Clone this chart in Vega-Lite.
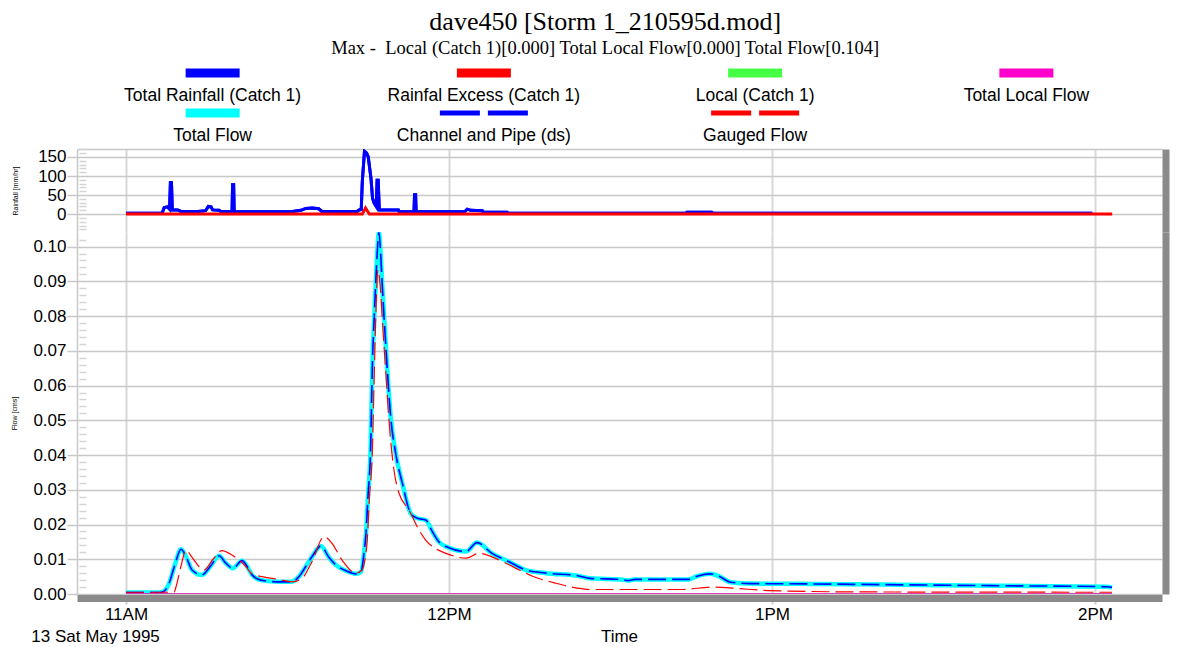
{
  "$schema": "https://vega.github.io/schema/vega-lite/v6.json",
  "padding": {"left": 10, "top": 8, "right": 5, "bottom": 0},
  "background": "white",
  "title": {
    "text": "dave450 [Storm 1_210595d.mod]",
    "subtitle": "Max - \u00a0Local (Catch 1)[0.000] Total Local Flow[0.000] Total Flow[0.104]",
    "font": "Liberation Serif", "fontSize": 26, "fontWeight": "normal", "color": "black",
    "subtitleFont": "Liberation Serif", "subtitleFontSize": 18.5, "subtitleColor": "black", "subtitlePadding": 4,
    "anchor": "middle", "offset": 6, "dx": 17
  },
  "datasets": {
    "legend": [
      {"series": "Total Rainfall (Catch 1)", "col": 0, "row": 0},
      {"series": "Rainfal Excess (Catch 1)", "col": 1, "row": 0},
      {"series": "Local (Catch 1)", "col": 2, "row": 0},
      {"series": "Total Local Flow", "col": 3, "row": 0},
      {"series": "Total Flow", "col": 0, "row": 1},
      {"series": "Channel and Pipe (ds)", "col": 1, "row": 1},
      {"series": "Gauged Flow", "col": 2, "row": 1}
    ],
    "rain": [
      {"series": "Total Rainfall", "t": "1995-05-13T11:00:00", "v": 2},
      {"series": "Total Rainfall", "t": "1995-05-13T11:06:42", "v": 2},
      {"series": "Total Rainfall", "t": "1995-05-13T11:07:06", "v": 17},
      {"series": "Total Rainfall", "t": "1995-05-13T11:07:42", "v": 19},
      {"series": "Total Rainfall", "t": "1995-05-13T11:08:06", "v": 13},
      {"series": "Total Rainfall", "t": "1995-05-13T11:08:15", "v": 83},
      {"series": "Total Rainfall", "t": "1995-05-13T11:08:27", "v": 83},
      {"series": "Total Rainfall", "t": "1995-05-13T11:08:36", "v": 11},
      {"series": "Total Rainfall", "t": "1995-05-13T11:09:36", "v": 11},
      {"series": "Total Rainfall", "t": "1995-05-13T11:10:12", "v": 7},
      {"series": "Total Rainfall", "t": "1995-05-13T11:13:18", "v": 7},
      {"series": "Total Rainfall", "t": "1995-05-13T11:14:48", "v": 9},
      {"series": "Total Rainfall", "t": "1995-05-13T11:15:18", "v": 20},
      {"series": "Total Rainfall", "t": "1995-05-13T11:15:48", "v": 19},
      {"series": "Total Rainfall", "t": "1995-05-13T11:16:06", "v": 11},
      {"series": "Total Rainfall", "t": "1995-05-13T11:17:18", "v": 10},
      {"series": "Total Rainfall", "t": "1995-05-13T11:17:36", "v": 7},
      {"series": "Total Rainfall", "t": "1995-05-13T11:19:42", "v": 7},
      {"series": "Total Rainfall", "t": "1995-05-13T11:19:48", "v": 77},
      {"series": "Total Rainfall", "t": "1995-05-13T11:20:00", "v": 77},
      {"series": "Total Rainfall", "t": "1995-05-13T11:20:06", "v": 6},
      {"series": "Total Rainfall", "t": "1995-05-13T11:30:36", "v": 6},
      {"series": "Total Rainfall", "t": "1995-05-13T11:32:30", "v": 10},
      {"series": "Total Rainfall", "t": "1995-05-13T11:33:24", "v": 15},
      {"series": "Total Rainfall", "t": "1995-05-13T11:34:36", "v": 16},
      {"series": "Total Rainfall", "t": "1995-05-13T11:35:48", "v": 14},
      {"series": "Total Rainfall", "t": "1995-05-13T11:36:24", "v": 7},
      {"series": "Total Rainfall", "t": "1995-05-13T11:42:54", "v": 7},
      {"series": "Total Rainfall", "t": "1995-05-13T11:43:18", "v": 11},
      {"series": "Total Rainfall", "t": "1995-05-13T11:43:42", "v": 12},
      {"series": "Total Rainfall", "t": "1995-05-13T11:43:54", "v": 86},
      {"series": "Total Rainfall", "t": "1995-05-13T11:44:18", "v": 165},
      {"series": "Total Rainfall", "t": "1995-05-13T11:44:30", "v": 163},
      {"series": "Total Rainfall", "t": "1995-05-13T11:44:42", "v": 160},
      {"series": "Total Rainfall", "t": "1995-05-13T11:45:00", "v": 150},
      {"series": "Total Rainfall", "t": "1995-05-13T11:45:30", "v": 95},
      {"series": "Total Rainfall", "t": "1995-05-13T11:45:48", "v": 42},
      {"series": "Total Rainfall", "t": "1995-05-13T11:46:06", "v": 29},
      {"series": "Total Rainfall", "t": "1995-05-13T11:46:30", "v": 20},
      {"series": "Total Rainfall", "t": "1995-05-13T11:46:39", "v": 89},
      {"series": "Total Rainfall", "t": "1995-05-13T11:46:51", "v": 89},
      {"series": "Total Rainfall", "t": "1995-05-13T11:47:03", "v": 11},
      {"series": "Total Rainfall", "t": "1995-05-13T11:50:36", "v": 11},
      {"series": "Total Rainfall", "t": "1995-05-13T11:50:45", "v": 6},
      {"series": "Total Rainfall", "t": "1995-05-13T11:53:30", "v": 6},
      {"series": "Total Rainfall", "t": "1995-05-13T11:53:36", "v": 51},
      {"series": "Total Rainfall", "t": "1995-05-13T11:53:48", "v": 51},
      {"series": "Total Rainfall", "t": "1995-05-13T11:53:54", "v": 6},
      {"series": "Total Rainfall", "t": "1995-05-13T12:02:54", "v": 6},
      {"series": "Total Rainfall", "t": "1995-05-13T12:03:24", "v": 13},
      {"series": "Total Rainfall", "t": "1995-05-13T12:04:00", "v": 10},
      {"series": "Total Rainfall", "t": "1995-05-13T12:06:12", "v": 9},
      {"series": "Total Rainfall", "t": "1995-05-13T12:06:24", "v": 5},
      {"series": "Total Rainfall", "t": "1995-05-13T12:10:48", "v": 5},
      {"series": "Total Rainfall", "t": "1995-05-13T12:11:00", "v": 2},
      {"series": "Total Rainfall", "t": "1995-05-13T12:44:00", "v": 2},
      {"series": "Total Rainfall", "t": "1995-05-13T12:44:12", "v": 5},
      {"series": "Total Rainfall", "t": "1995-05-13T12:48:48", "v": 5},
      {"series": "Total Rainfall", "t": "1995-05-13T12:49:00", "v": 2},
      {"series": "Total Rainfall", "t": "1995-05-13T13:59:30", "v": 2},
      {"series": "Rainfall Excess", "t": "1995-05-13T11:00:00", "v": 0},
      {"series": "Rainfall Excess", "t": "1995-05-13T11:43:54", "v": 0},
      {"series": "Rainfall Excess", "t": "1995-05-13T11:44:30", "v": 16},
      {"series": "Rainfall Excess", "t": "1995-05-13T11:45:12", "v": 0},
      {"series": "Rainfall Excess", "t": "1995-05-13T14:03:12", "v": 0}
    ],
    "flow": [
      {"series": "Total Flow", "t": "1995-05-13T11:00:00", "v": 0.0004},
      {"series": "Total Flow", "t": "1995-05-13T11:06:08", "v": 0.0004},
      {"series": "Total Flow", "t": "1995-05-13T11:07:04", "v": 0.0008},
      {"series": "Total Flow", "t": "1995-05-13T11:07:59", "v": 0.003},
      {"series": "Total Flow", "t": "1995-05-13T11:09:06", "v": 0.0085},
      {"series": "Total Flow", "t": "1995-05-13T11:10:13", "v": 0.0129},
      {"series": "Total Flow", "t": "1995-05-13T11:11:09", "v": 0.0108},
      {"series": "Total Flow", "t": "1995-05-13T11:12:16", "v": 0.0069},
      {"series": "Total Flow", "t": "1995-05-13T11:14:07", "v": 0.0055},
      {"series": "Total Flow", "t": "1995-05-13T11:15:47", "v": 0.0082},
      {"series": "Total Flow", "t": "1995-05-13T11:17:17", "v": 0.011},
      {"series": "Total Flow", "t": "1995-05-13T11:18:35", "v": 0.0088},
      {"series": "Total Flow", "t": "1995-05-13T11:19:53", "v": 0.0074},
      {"series": "Total Flow", "t": "1995-05-13T11:21:33", "v": 0.0096},
      {"series": "Total Flow", "t": "1995-05-13T11:22:29", "v": 0.008},
      {"series": "Total Flow", "t": "1995-05-13T11:23:25", "v": 0.0055},
      {"series": "Total Flow", "t": "1995-05-13T11:25:05", "v": 0.004},
      {"series": "Total Flow", "t": "1995-05-13T11:28:25", "v": 0.0035},
      {"series": "Total Flow", "t": "1995-05-13T11:30:39", "v": 0.0035},
      {"series": "Total Flow", "t": "1995-05-13T11:32:08", "v": 0.005},
      {"series": "Total Flow", "t": "1995-05-13T11:33:26", "v": 0.008},
      {"series": "Total Flow", "t": "1995-05-13T11:34:33", "v": 0.0107},
      {"series": "Total Flow", "t": "1995-05-13T11:36:13", "v": 0.0138},
      {"series": "Total Flow", "t": "1995-05-13T11:37:43", "v": 0.0105},
      {"series": "Total Flow", "t": "1995-05-13T11:39:01", "v": 0.0083},
      {"series": "Total Flow", "t": "1995-05-13T11:40:52", "v": 0.0067},
      {"series": "Total Flow", "t": "1995-05-13T11:42:44", "v": 0.0058},
      {"series": "Total Flow", "t": "1995-05-13T11:43:40", "v": 0.0064},
      {"series": "Total Flow", "t": "1995-05-13T11:44:13", "v": 0.0118},
      {"series": "Total Flow", "t": "1995-05-13T11:44:35", "v": 0.0175},
      {"series": "Total Flow", "t": "1995-05-13T11:44:57", "v": 0.028},
      {"series": "Total Flow", "t": "1995-05-13T11:45:27", "v": 0.0424},
      {"series": "Total Flow", "t": "1995-05-13T11:45:45", "v": 0.0645},
      {"series": "Total Flow", "t": "1995-05-13T11:46:12", "v": 0.0827},
      {"series": "Total Flow", "t": "1995-05-13T11:46:34", "v": 0.0952},
      {"series": "Total Flow", "t": "1995-05-13T11:47:00", "v": 0.104},
      {"series": "Total Flow", "t": "1995-05-13T11:47:16", "v": 0.099},
      {"series": "Total Flow", "t": "1995-05-13T11:47:37", "v": 0.0885},
      {"series": "Total Flow", "t": "1995-05-13T11:48:21", "v": 0.0693},
      {"series": "Total Flow", "t": "1995-05-13T11:49:10", "v": 0.051},
      {"series": "Total Flow", "t": "1995-05-13T11:50:06", "v": 0.0405},
      {"series": "Total Flow", "t": "1995-05-13T11:51:20", "v": 0.0319},
      {"series": "Total Flow", "t": "1995-05-13T11:52:53", "v": 0.0232},
      {"series": "Total Flow", "t": "1995-05-13T11:54:07", "v": 0.0218},
      {"series": "Total Flow", "t": "1995-05-13T11:55:40", "v": 0.0213},
      {"series": "Total Flow", "t": "1995-05-13T11:56:54", "v": 0.018},
      {"series": "Total Flow", "t": "1995-05-13T11:58:08", "v": 0.015},
      {"series": "Total Flow", "t": "1995-05-13T12:00:00", "v": 0.0133},
      {"series": "Total Flow", "t": "1995-05-13T12:03:10", "v": 0.0122},
      {"series": "Total Flow", "t": "1995-05-13T12:05:12", "v": 0.0148},
      {"series": "Total Flow", "t": "1995-05-13T12:07:59", "v": 0.0117},
      {"series": "Total Flow", "t": "1995-05-13T12:11:09", "v": 0.0093},
      {"series": "Total Flow", "t": "1995-05-13T12:14:18", "v": 0.0069},
      {"series": "Total Flow", "t": "1995-05-13T12:18:01", "v": 0.006},
      {"series": "Total Flow", "t": "1995-05-13T12:24:09", "v": 0.0052},
      {"series": "Total Flow", "t": "1995-05-13T12:26:11", "v": 0.0045},
      {"series": "Total Flow", "t": "1995-05-13T12:31:57", "v": 0.0042},
      {"series": "Total Flow", "t": "1995-05-13T12:33:15", "v": 0.0039},
      {"series": "Total Flow", "t": "1995-05-13T12:34:33", "v": 0.0042},
      {"series": "Total Flow", "t": "1995-05-13T12:44:24", "v": 0.0042},
      {"series": "Total Flow", "t": "1995-05-13T12:46:04", "v": 0.0051},
      {"series": "Total Flow", "t": "1995-05-13T12:48:29", "v": 0.0058},
      {"series": "Total Flow", "t": "1995-05-13T12:50:10", "v": 0.0051},
      {"series": "Total Flow", "t": "1995-05-13T12:52:17", "v": 0.0034},
      {"series": "Total Flow", "t": "1995-05-13T12:56:02", "v": 0.003},
      {"series": "Total Flow", "t": "1995-05-13T13:07:37", "v": 0.0029},
      {"series": "Total Flow", "t": "1995-05-13T13:20:04", "v": 0.0027},
      {"series": "Total Flow", "t": "1995-05-13T13:40:46", "v": 0.0024},
      {"series": "Total Flow", "t": "1995-05-13T14:02:14", "v": 0.0021},
      {"series": "Total Flow", "t": "1995-05-13T14:03:10", "v": 0.0019},
      {"series": "Gauged Flow", "t": "1995-05-13T11:00:00", "v": 0.0005},
      {"series": "Gauged Flow", "t": "1995-05-13T11:08:55", "v": 0.0005},
      {"series": "Gauged Flow", "t": "1995-05-13T11:09:17", "v": 0.002},
      {"series": "Gauged Flow", "t": "1995-05-13T11:10:13", "v": 0.008},
      {"series": "Gauged Flow", "t": "1995-05-13T11:11:09", "v": 0.0127},
      {"series": "Gauged Flow", "t": "1995-05-13T11:12:04", "v": 0.011},
      {"series": "Gauged Flow", "t": "1995-05-13T11:13:00", "v": 0.009},
      {"series": "Gauged Flow", "t": "1995-05-13T11:14:29", "v": 0.0069},
      {"series": "Gauged Flow", "t": "1995-05-13T11:16:10", "v": 0.01},
      {"series": "Gauged Flow", "t": "1995-05-13T11:17:50", "v": 0.0125},
      {"series": "Gauged Flow", "t": "1995-05-13T11:19:41", "v": 0.0112},
      {"series": "Gauged Flow", "t": "1995-05-13T11:22:17", "v": 0.0079},
      {"series": "Gauged Flow", "t": "1995-05-13T11:23:25", "v": 0.0058},
      {"series": "Gauged Flow", "t": "1995-05-13T11:28:25", "v": 0.0042},
      {"series": "Gauged Flow", "t": "1995-05-13T11:30:50", "v": 0.0035},
      {"series": "Gauged Flow", "t": "1995-05-13T11:32:41", "v": 0.0045},
      {"series": "Gauged Flow", "t": "1995-05-13T11:34:33", "v": 0.0093},
      {"series": "Gauged Flow", "t": "1995-05-13T11:36:47", "v": 0.0165},
      {"series": "Gauged Flow", "t": "1995-05-13T11:38:16", "v": 0.0146},
      {"series": "Gauged Flow", "t": "1995-05-13T11:40:07", "v": 0.0098},
      {"series": "Gauged Flow", "t": "1995-05-13T11:42:44", "v": 0.006},
      {"series": "Gauged Flow", "t": "1995-05-13T11:43:50", "v": 0.0069},
      {"series": "Gauged Flow", "t": "1995-05-13T11:44:24", "v": 0.01},
      {"series": "Gauged Flow", "t": "1995-05-13T11:44:49", "v": 0.0155},
      {"series": "Gauged Flow", "t": "1995-05-13T11:45:14", "v": 0.028},
      {"series": "Gauged Flow", "t": "1995-05-13T11:45:45", "v": 0.0405},
      {"series": "Gauged Flow", "t": "1995-05-13T11:46:04", "v": 0.0597},
      {"series": "Gauged Flow", "t": "1995-05-13T11:46:23", "v": 0.0789},
      {"series": "Gauged Flow", "t": "1995-05-13T11:46:49", "v": 0.0933},
      {"series": "Gauged Flow", "t": "1995-05-13T11:47:19", "v": 0.0866},
      {"series": "Gauged Flow", "t": "1995-05-13T11:47:37", "v": 0.0789},
      {"series": "Gauged Flow", "t": "1995-05-13T11:48:14", "v": 0.0645},
      {"series": "Gauged Flow", "t": "1995-05-13T11:48:51", "v": 0.05},
      {"series": "Gauged Flow", "t": "1995-05-13T11:49:47", "v": 0.0357},
      {"series": "Gauged Flow", "t": "1995-05-13T11:50:43", "v": 0.029},
      {"series": "Gauged Flow", "t": "1995-05-13T11:52:34", "v": 0.0242},
      {"series": "Gauged Flow", "t": "1995-05-13T11:54:26", "v": 0.0184},
      {"series": "Gauged Flow", "t": "1995-05-13T11:55:40", "v": 0.0155},
      {"series": "Gauged Flow", "t": "1995-05-13T11:57:35", "v": 0.013},
      {"series": "Gauged Flow", "t": "1995-05-13T11:59:26", "v": 0.0117},
      {"series": "Gauged Flow", "t": "1995-05-13T12:03:10", "v": 0.0103},
      {"series": "Gauged Flow", "t": "1995-05-13T12:05:34", "v": 0.0117},
      {"series": "Gauged Flow", "t": "1995-05-13T12:09:17", "v": 0.0098},
      {"series": "Gauged Flow", "t": "1995-05-13T12:12:11", "v": 0.0076},
      {"series": "Gauged Flow", "t": "1995-05-13T12:15:32", "v": 0.0051},
      {"series": "Gauged Flow", "t": "1995-05-13T12:19:36", "v": 0.0032},
      {"series": "Gauged Flow", "t": "1995-05-13T12:23:47", "v": 0.0017},
      {"series": "Gauged Flow", "t": "1995-05-13T12:26:17", "v": 0.0013},
      {"series": "Gauged Flow", "t": "1995-05-13T12:42:52", "v": 0.0013},
      {"series": "Gauged Flow", "t": "1995-05-13T12:49:25", "v": 0.002},
      {"series": "Gauged Flow", "t": "1995-05-13T12:53:30", "v": 0.0016},
      {"series": "Gauged Flow", "t": "1995-05-13T12:59:20", "v": 0.001},
      {"series": "Gauged Flow", "t": "1995-05-13T13:15:54", "v": 0.0006},
      {"series": "Gauged Flow", "t": "1995-05-13T14:03:10", "v": 0.0005},
      {"series": "Local (Catch 1)", "t": "1995-05-13T11:00:00", "v": 0},
      {"series": "Local (Catch 1)", "t": "1995-05-13T14:03:10", "v": 0},
      {"series": "Total Local Flow", "t": "1995-05-13T11:00:00", "v": 0},
      {"series": "Total Local Flow", "t": "1995-05-13T14:03:10", "v": 0}
    ]
  },
  "config": {
    "view": {"stroke": null},
    "axis": {"labelFont": "Liberation Sans", "titleFont": "Liberation Sans", "labelColor": "black", "titleColor": "black"}
  },
  "spacing": 2,
  "vconcat": [
    {
      "width": 1085, "height": 80,
      "data": {"name": "legend"},
      "encoding": {
        "x": {"field": "col", "type": "quantitative", "scale": {"domain": [-0.5, 3.5]}, "axis": null},
        "y": {"field": "row", "type": "quantitative", "scale": {"domain": [-0.5, 1.5], "reverse": true}, "axis": null}
      },
      "layer": [
        {
          "transform": [{"filter": "datum.series != 'Channel and Pipe (ds)' && datum.series != 'Gauged Flow'"}],
          "mark": {"type": "rule", "strokeWidth": 9, "xOffset": -27, "x2Offset": 27, "yOffset": -10},
          "encoding": {
            "x2": {"field": "col"},
            "color": {"field": "series", "type": "nominal", "legend": null,
              "scale": {"domain": ["Total Rainfall (Catch 1)", "Rainfal Excess (Catch 1)", "Local (Catch 1)", "Total Local Flow", "Total Flow", "Channel and Pipe (ds)", "Gauged Flow"],
                        "range": ["#0000ff", "#ff0000", "#44ff44", "#ff00cc", "#00ffff", "#0000ff", "#ff0000"]}}
          }
        },
        {
          "transform": [{"filter": "datum.series == 'Channel and Pipe (ds)' || datum.series == 'Gauged Flow'"}],
          "mark": {"type": "rule", "strokeWidth": 5, "strokeDash": [40, 8], "xOffset": -44, "x2Offset": 44, "yOffset": -10},
          "encoding": {
            "x2": {"field": "col"},
            "color": {"field": "series", "type": "nominal", "legend": null}
          }
        },
        {
          "mark": {"type": "text", "font": "Liberation Sans", "fontSize": 17.5, "color": "black", "baseline": "middle", "yOffset": 13},
          "encoding": {"text": {"field": "series"}}
        }
      ]
    },
    {
      "spacing": 0,
      "vconcat": [
        {
          "width": 1085, "height": 83,
          "data": {"name": "rain"},
          "layer": [
            {
              "transform": [{"filter": "datum.series == 'Total Rainfall'"}],
              "mark": {"type": "line", "color": "#0000ff", "strokeWidth": 3, "clip": true},
              "encoding": {
                "x": {"field": "t", "type": "temporal",
                  "scale": {"domain": [{"year": 1995, "month": 5, "date": 13, "hours": 10, "minutes": 50, "seconds": 54}, {"year": 1995, "month": 5, "date": 13, "hours": 14, "minutes": 12, "seconds": 27}]},
                  "axis": {"orient": "top", "values": [
                      {"year": 1995, "month": 5, "date": 13, "hours": 11},
                      {"year": 1995, "month": 5, "date": 13, "hours": 12},
                      {"year": 1995, "month": 5, "date": 13, "hours": 13},
                      {"year": 1995, "month": 5, "date": 13, "hours": 14}],
                    "labels": false, "ticks": false, "title": null, "grid": true, "gridColor": "#d8d8d8", "gridWidth": 2,
                    "domainColor": "#c8c8c8", "domainWidth": 1.5}},
                "y": {"field": "v", "type": "quantitative", "scale": {"domain": [-47, 171]},
                  "axis": {"values": [0, 50, 100, 150], "grid": true, "gridColor": "#c8c8c8", "gridWidth": 1.5,
                    "domainColor": "#c8c8c8", "domainWidth": 1.5, "tickColor": "#c8c8c8", "tickSize": 10, "tickWidth": 1.5,
                    "labelFontSize": 17, "labelPadding": 1,
                    "title": "Rainfall [mm/hr]", "titleFontSize": 7, "titleFontWeight": "normal", "titlePadding": 19}}
              }
            },
            {
              "transform": [{"filter": "datum.series == 'Total Rainfall'"}],
              "mark": {"type": "line", "color": "#0000ff", "strokeWidth": 3, "clip": true},
              "encoding": {
                "x": {"field": "t", "type": "temporal", "axis": null},
                "y": {"field": "v", "type": "quantitative", "scale": {"domain": [-47, 171]},
                  "axis": {"orient": "left", "values": [-40, -30, -20, -10, 10, 20, 30, 40, 60, 70, 80, 90, 110, 120, 130, 140, 160, 170],
                    "labels": false, "domain": false, "grid": false, "title": null,
                    "ticks": true, "tickSize": -7, "tickColor": "#d4d4d4", "tickWidth": 1.5, "offset": -2}}
              }
            },
            {
              "transform": [{"filter": "datum.series == 'Rainfall Excess'"}],
              "mark": {"type": "line", "color": "#ff0000", "strokeWidth": 3, "clip": true},
              "encoding": {
                "x": {"field": "t", "type": "temporal", "axis": null},
                "y": {"field": "v", "type": "quantitative", "scale": {"domain": [-47, 171]},
                  "axis": {"orient": "right", "labels": false, "ticks": false, "grid": false, "title": null,
                    "domainColor": "#8a8a8a", "domainWidth": 7, "offset": 3.5}}
              }
            }
          ],
          "resolve": {"axis": {"x": "independent", "y": "independent"}}
        },
        {
          "width": 1085, "height": 362,
          "data": {"name": "flow"},
          "layer": [
            {
              "transform": [{"filter": "datum.series == 'Total Flow'"}],
              "mark": {"type": "line", "color": "#00ffff", "strokeWidth": 4.5, "interpolate": "monotone", "clip": true},
              "encoding": {
                "x": {"field": "t", "type": "temporal",
                  "scale": {"domain": [{"year": 1995, "month": 5, "date": 13, "hours": 10, "minutes": 50, "seconds": 54}, {"year": 1995, "month": 5, "date": 13, "hours": 14, "minutes": 12, "seconds": 27}]},
                  "axis": {"orient": "bottom", "values": [
                      {"year": 1995, "month": 5, "date": 13, "hours": 11},
                      {"year": 1995, "month": 5, "date": 13, "hours": 12},
                      {"year": 1995, "month": 5, "date": 13, "hours": 13},
                      {"year": 1995, "month": 5, "date": 13, "hours": 14}],
                    "format": "%-I%p", "labelFontSize": 17, "labelPadding": 2, "labelFlush": false,
                    "ticks": true, "tickSize": 6, "tickColor": "#d0d0d0", "tickWidth": 2,
                    "title": null, "grid": true, "gridColor": "#d8d8d8", "gridWidth": 2,
                    "domainColor": "#8a8a8a", "domainWidth": 7, "offset": 4}},
                "y": {"field": "v", "type": "quantitative", "scale": {"domain": [0, 0.1042]},
                  "axis": {"values": [0, 0.01, 0.02, 0.03, 0.04, 0.05, 0.06, 0.07, 0.08, 0.09, 0.1], "format": ".2f",
                    "grid": true, "gridColor": "#c8c8c8", "gridWidth": 1.5,
                    "domainColor": "#c8c8c8", "domainWidth": 1.5, "tickColor": "#c8c8c8", "tickSize": 10, "tickWidth": 1.5,
                    "labelFontSize": 17, "labelPadding": 1,
                    "title": "Flow [cms]", "titleFontSize": 7, "titleFontWeight": "normal", "titlePadding": 15}}
              }
            },
            {
              "transform": [{"filter": "datum.series == 'Total Flow'"}],
              "mark": {"type": "line", "color": "#0000ff", "strokeWidth": 1.6, "strokeDash": [18, 6], "interpolate": "monotone", "clip": true},
              "encoding": {
                "x": {"field": "t", "type": "temporal", "axis": null},
                "y": {"field": "v", "type": "quantitative", "scale": {"domain": [0, 0.1042]},
                  "axis": {"orient": "right", "labels": false, "ticks": false, "grid": false, "title": null,
                    "domainColor": "#8a8a8a", "domainWidth": 7, "offset": 3.5}}
              }
            },
            {
              "transform": [{"filter": "datum.series == 'Gauged Flow'"}],
              "mark": {"type": "line", "color": "#ff0000", "strokeWidth": 1.2, "strokeDash": [18, 6], "interpolate": "monotone", "clip": true},
              "encoding": {
                "x": {"field": "t", "type": "temporal", "axis": null},
                "y": {"field": "v", "type": "quantitative", "scale": {"domain": [0, 0.1042]},
                  "axis": {"orient": "left", "values": [0.002, 0.004, 0.006, 0.008, 0.012, 0.014, 0.016, 0.018, 0.022, 0.024, 0.026, 0.028, 0.032, 0.034, 0.036, 0.038, 0.042, 0.044, 0.046, 0.048, 0.052, 0.054, 0.056, 0.058, 0.062, 0.064, 0.066, 0.068, 0.072, 0.074, 0.076, 0.078, 0.082, 0.084, 0.086, 0.088, 0.092, 0.094, 0.096, 0.098, 0.102],
                    "labels": false, "domain": false, "grid": false, "title": null,
                    "ticks": true, "tickSize": -7, "tickColor": "#d4d4d4", "tickWidth": 1.5, "offset": -2}}
              }
            },
            {
              "transform": [{"filter": "datum.series == 'Local (Catch 1)'"}],
              "mark": {"type": "line", "color": "#44ff44", "strokeWidth": 1.5, "clip": true},
              "encoding": {
                "x": {"field": "t", "type": "temporal", "axis": null},
                "y": {"field": "v", "type": "quantitative", "scale": {"domain": [0, 0.1042]}, "axis": null}
              }
            },
            {
              "transform": [{"filter": "datum.series == 'Total Local Flow'"}],
              "mark": {"type": "line", "color": "#ff00cc", "strokeWidth": 1.5, "clip": true},
              "encoding": {
                "x": {"field": "t", "type": "temporal",
                  "axis": {"orient": "bottom", "values": [
                      {"year": 1995, "month": 5, "date": 13, "hours": 10, "minutes": 54, "seconds": 15},
                      {"year": 1995, "month": 5, "date": 13, "hours": 12, "minutes": 31, "seconds": 35}],
                    "labelExpr": "hours(datum.value) < 11 ? '13 Sat May 1995' : 'Time'",
                    "labelFontSize": 17, "labelFlush": false, "labelPadding": 0, "offset": 34,
                    "domain": false, "ticks": false, "grid": false, "title": null}},
                "y": {"field": "v", "type": "quantitative", "scale": {"domain": [0, 0.1042]}, "axis": null}
              }
            }
          ],
          "resolve": {"axis": {"x": "independent", "y": "independent"}}
        }
      ]
    }
  ]
}
